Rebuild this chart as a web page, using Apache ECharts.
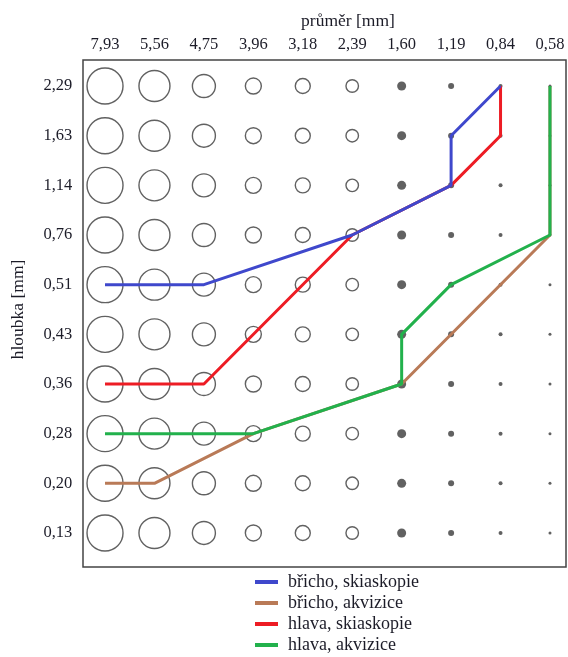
<!DOCTYPE html>
<html>
<head>
<meta charset="utf-8">
<style>html,body{margin:0;padding:0;background:#fff}#c{width:568px;height:657px}</style>
<script src="https://cdn.jsdelivr.net/npm/echarts@6/dist/echarts.min.js"></script>
</head>
<body>
<div id="c"></div>
<script>
// Diameter categories (top axis) and depth categories (left axis, bottom -> top)
const diameters = ['7,93','5,56','4,75','3,96','3,18','2,39','1,60','1,19','0,84','0,58'];
const depths = ['0,13','0,20','0,28','0,36','0,43','0,51','0,76','1,14','1,63','2,29'];
// phantom detail sizes per diameter column (symbol size) and fill type
const detailSize = [36, 31, 23, 16, 15, 12.5, 9, 6, 4, 3];
const detailFilled = [false, false, false, false, false, false, true, true, true, true];

// threshold curves as [diameterIndex, depthIndex]
const bruchoSkiaskopie = [[0,5],[2,5],[5,6],[7,7],[7,8],[8,9]];
const bruchoAkvizice   = [[0,1],[1,1],[3,2],[6,3],[9,6],[9,9]];
const hlavaSkiaskopie  = [[0,3],[2,3],[5,6],[7,7],[8,8],[8,9]];
const hlavaAkvizice    = [[0,2],[3,2],[6,3],[6,4],[7,5],[9,6],[9,9]];

const seriesNames = ['břicho, skiaskopie','břicho, akvizice','hlava, skiaskopie','hlava, akvizice'];
const seriesColors = ['#3f48cc','#b97a57','#ed1c24','#22b14c'];

const openPts = [], filledPts = [];
for (let i = 0; i < diameters.length; i++) {
  for (let j = 0; j < depths.length; j++) {
    (detailFilled[i] ? filledPts : openPts).push([i, j]);
  }
}
const sizeFn = v => detailSize[v[0]];
const font = 'Liberation Serif';
const txt = '#1c1c28';

const chart = echarts.init(document.getElementById('c'), null, {renderer: 'canvas'});
chart.setOption({
  animation: false,
  backgroundColor: '#fff',
  title: {
    text: 'průměr [mm]', left: 343, top: 7, textAlign: 'center',
    textStyle: {fontFamily: font, fontSize: 17.5, fontWeight: 'normal', color: txt}
  },
  legend: {
    orient: 'vertical', left: 255, top: 573, padding: 0, height: 84,
    icon: 'rect', itemWidth: 23, itemHeight: 4, itemGap: 3,
    data: seriesNames,
    textStyle: {fontFamily: font, fontSize: 18, color: txt, padding: [0, 0, 0, 5]}
  },
  grid: [
    {left: 83, top: 60, right: 2, bottom: 90, show: true, borderColor: '#444', borderWidth: 1.5,
     backgroundColor: 'transparent', outerBoundsMode: 'none', containLabel: false},
    {left: 80.3, top: 61.2, right: -6.7, bottom: 99.2, outerBoundsMode: 'none', containLabel: false}
  ],
  xAxis: [
    {gridIndex: 0, type: 'value', show: false, min: 0, max: 1},
    {gridIndex: 1, type: 'category', data: diameters, position: 'top', boundaryGap: true,
     axisLine: {show: false}, axisTick: {show: false}, splitLine: {show: false},
     axisLabel: {fontFamily: font, fontSize: 16.5, color: txt, margin: 8, interval: 0}}
  ],
  yAxis: [
    {gridIndex: 0, type: 'value', show: false, min: 0, max: 1},
    {gridIndex: 1, type: 'category', data: depths, boundaryGap: true,
     axisLine: {show: false}, axisTick: {show: false}, splitLine: {show: false},
     axisLabel: {fontFamily: font, fontSize: 16.5, color: txt, margin: 8, interval: 0},
     name: 'hloubka [mm]', nameLocation: 'middle', nameGap: 53,
     nameTextStyle: {fontFamily: font, fontSize: 17.5, color: txt}}
  ],
  series: [
    {type: 'scatter', xAxisIndex: 1, yAxisIndex: 1, data: openPts, symbol: 'circle', symbolSize: sizeFn,
     itemStyle: {color: 'rgba(255,255,255,0)', borderColor: '#3a3a3a', borderWidth: 1.4}, z: 1, silent: true},
    {type: 'scatter', xAxisIndex: 1, yAxisIndex: 1, data: filledPts, symbol: 'circle', symbolSize: sizeFn,
     itemStyle: {color: '#3a3a3a'}, z: 1, silent: true},
    {name: seriesNames[0], type: 'line', xAxisIndex: 1, yAxisIndex: 1, data: bruchoSkiaskopie, showSymbol: false,
     lineStyle: {color: seriesColors[0], width: 3}, itemStyle: {color: seriesColors[0]}, z: 5},
    {name: seriesNames[1], type: 'line', xAxisIndex: 1, yAxisIndex: 1, data: bruchoAkvizice, showSymbol: false,
     lineStyle: {color: seriesColors[1], width: 3}, itemStyle: {color: seriesColors[1]}, z: 3},
    {name: seriesNames[2], type: 'line', xAxisIndex: 1, yAxisIndex: 1, data: hlavaSkiaskopie, showSymbol: false,
     lineStyle: {color: seriesColors[2], width: 3}, itemStyle: {color: seriesColors[2]}, z: 4},
    {name: seriesNames[3], type: 'line', xAxisIndex: 1, yAxisIndex: 1, data: hlavaAkvizice, showSymbol: false,
     lineStyle: {color: seriesColors[3], width: 3}, itemStyle: {color: seriesColors[3]}, z: 4}
  ]
});
</script>
</body>
</html>
